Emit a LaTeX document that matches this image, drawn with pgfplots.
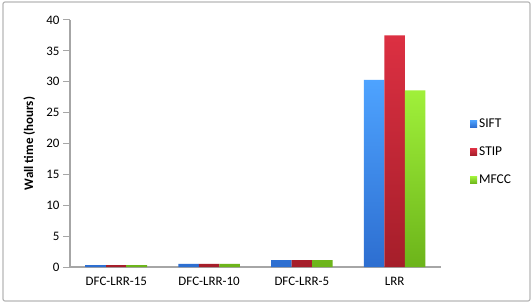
\documentclass[border=0pt]{standalone}
\usepackage{fontspec}
\setmainfont{Carlito}
\usepackage{pgfplots}
\pgfplotsset{compat=1.18}
\definecolor{axgray}{HTML}{A6A6A6}
\begin{document}
\begin{tikzpicture}[x=1bp,y=1bp]
\path[draw=none,fill=white] (0,0) rectangle (532,303);
\draw[color=axgray!80, line width=1.2bp, rounded corners=2bp] (3,2) rectangle (530,301);
\begin{axis}[
  at={(70bp,36bp)}, anchor=south west,
  scale only axis, width=371bp, height=247bp,
  ybar=0pt, bar width=20.5bp,
  xmin=-0.5, xmax=3.5, ymin=0, ymax=40,
  xtick={0,1,2,3},
  xticklabels={DFC-LRR-15,DFC-LRR-10,DFC-LRR-5,LRR},
  ytick={0,5,...,40},
  axis lines*=left,
  axis line style={axgray, line width=1.2bp, -},
  x tick style={draw=none},
  y tick style={axgray, line width=1bp},
  tick align=outside, major tick length=7bp,
  /pgf/number format/assume math mode=true,
  tick label style={font=\fontsize{13}{15}\selectfont},
  ylabel={Wall time (hours)},
  every axis y label/.style={at={(axis description cs:-0.11,0.5)}, rotate=90, anchor=center,
    font=\bfseries\fontsize{13}{15}\selectfont},
  legend style={at={(1.07,0.466)}, anchor=west, draw=none, fill=none,
    font=\fontsize{13.5}{15}\selectfont, row sep=14bp, legend cell align=left},
  legend image code/.code={\path[#1] (0bp,-3.5bp) rectangle (7bp,3.5bp);},
]
\addplot[draw=none, top color={rgb,255:red,78;green,163;blue,255}, bottom color={rgb,255:red,45;green,110;blue,208}]
  coordinates {(0,0.3) (1,0.5) (2,1.1) (3,30.3)};
\addplot[draw=none, top color={rgb,255:red,220;green,48;blue,66}, bottom color={rgb,255:red,165;green,30;blue,42}]
  coordinates {(0,0.3) (1,0.5) (2,1.1) (3,37.5)};
\addplot[draw=none, top color={rgb,255:red,160;green,240;blue,58}, bottom color={rgb,255:red,108;green,180;blue,26}]
  coordinates {(0,0.3) (1,0.5) (2,1.1) (3,28.6)};
\legend{SIFT,STIP,MFCC}
\end{axis}
\end{tikzpicture}
\end{document}
